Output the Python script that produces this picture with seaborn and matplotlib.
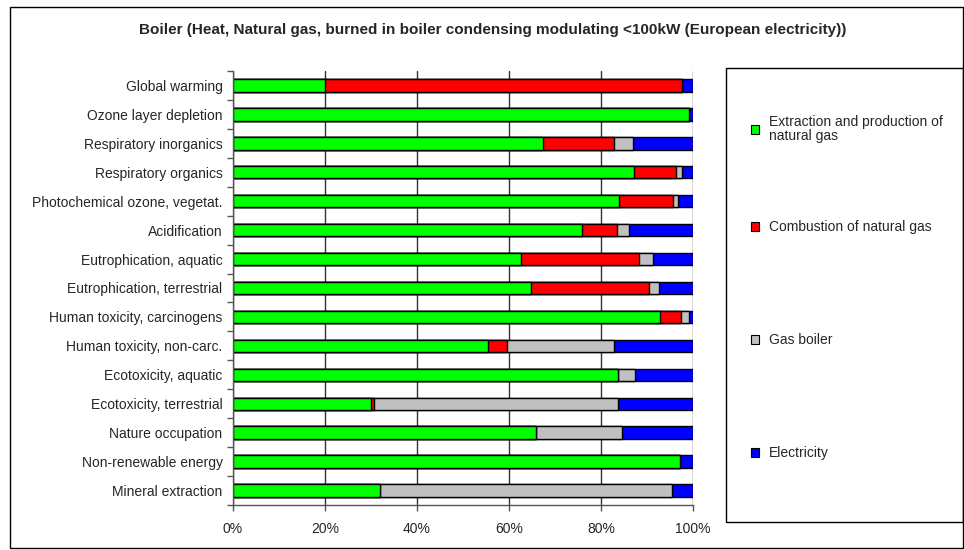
"""
Boiler LCA contribution chart - share of each process per impact category.
"""

import numpy as np
import pandas as pd
import matplotlib
matplotlib.use('Agg')
import matplotlib.pyplot as plt
import seaborn as sns
from matplotlib.patches import Rectangle, Patch

# ── Data (percent of each impact category) ───────────────────────────────────
categories = [
    'Global warming', 'Ozone layer depletion', 'Respiratory inorganics',
    'Respiratory organics', 'Photochemical ozone, vegetat.', 'Acidification',
    'Eutrophication, aquatic', 'Eutrophication, terrestrial',
    'Human toxicity, carcinogens', 'Human toxicity, non-carc.',
    'Ecotoxicity, aquatic', 'Ecotoxicity, terrestrial', 'Nature occupation',
    'Non-renewable energy', 'Mineral extraction',
]
extraction  = [20.0, 99.2, 67.4, 87.2, 84.0, 75.9, 62.5, 64.8, 92.8, 55.5, 83.7, 30.1, 65.9, 97.1, 32.0]
combustion  = [77.5,  0.0, 15.4,  9.0, 11.7,  7.5, 25.8, 25.6,  4.6,  4.1,  0.0,  0.6,  0.0,  0.0,  0.0]
gas_boiler  = [ 0.0,  0.0,  4.1,  1.5,  1.0,  2.6,  3.0,  2.3,  1.7, 23.2,  3.7, 52.9, 18.7,  0.0, 63.4]
electricity = [ 2.5,  0.8, 13.1,  2.3,  3.3, 14.0,  8.7,  7.3,  0.9, 17.2, 12.6, 16.4, 15.4,  2.9,  4.6]

series_labels = ['Extraction and production of\nnatural gas', 'Combustion of natural gas',
                 'Gas boiler', 'Electricity']
series_colors = ['#00ff00', '#ff0000', '#c0c0c0', '#0000ff']

# ── Build stacked (cumulative) table ─────────────────────────────────────────
df = pd.DataFrame({
    'category': categories,
    'extraction': extraction,
    'combustion': combustion,
    'gas_boiler': gas_boiler,
    'electricity': electricity,
})
parts = ['extraction', 'combustion', 'gas_boiler', 'electricity']
total = df[parts].sum(axis=1)
cum = df[parts].div(total, axis=0).mul(100).cumsum(axis=1)
cum['category'] = df['category']

# ── Plot ─────────────────────────────────────────────────────────────────────
sns.set_style('white')
plt.rcParams['font.family'] = ['Liberation Sans', 'DejaVu Sans']

fig = plt.figure(figsize=(9.64, 5.5), dpi=100)
ax = fig.add_axes([233 / 964, 1 - 505 / 550, 460 / 964, 434 / 550])

# draw the cumulative bars from the longest to the shortest -> stacked look
for part, color in reversed(list(zip(parts, series_colors))):
    sns.barplot(data=cum, x=part, y='category', orient='h', color=color,
                edgecolor='black', linewidth=1, width=0.43,
                errorbar=None, saturation=1, ax=ax)

ax.set_xlim(0, 100)
ax.set_ylim(len(categories) - 0.5, -0.5)
ax.set_xticks([0, 20, 40, 60, 80, 100])
ax.set_xticklabels([f'{v}%' for v in [0, 20, 40, 60, 80, 100]])
ax.set_xlabel('')
ax.set_ylabel('')

ax.set_axisbelow(True)
ax.xaxis.grid(True, color='#333333', lw=1)
ax.yaxis.grid(False)

# ticks at the category boundaries on y, outward ticks on x
ax.set_yticks(np.arange(-0.5, len(categories), 1), minor=True)
ax.tick_params(axis='y', which='major', length=0, pad=7.5, labelsize=10)
ax.tick_params(axis='y', which='minor', length=4, width=1, color='#555555', direction='out', left=True)
ax.tick_params(axis='x', which='major', length=4, width=1, color='#555555', direction='out',
               bottom=True, pad=8, labelsize=10)

for side in ['top', 'right']:
    ax.spines[side].set_visible(False)
for side in ['left', 'bottom']:
    ax.spines[side].set_color('#555555')
    ax.spines[side].set_linewidth(1)

# title
fig.text(493 / 964, 1 - 30 / 550,
         'Boiler (Heat, Natural gas, burned in boiler condensing modulating <100kW (European electricity))',
         ha='center', va='center', fontsize=11, fontweight='bold')

# outer chart border
fig.patches.append(Rectangle((10 / 964, 2 / 550), 953 / 964, 541 / 550,
                             transform=fig.transFigure, fill=False,
                             edgecolor='black', lw=1))

# legend box
fig.patches.append(Rectangle((726 / 964, 1 - 522 / 550), 237 / 964, 454 / 550,
                             transform=fig.transFigure, fill=False,
                             edgecolor='black', lw=1))

# one legend per entry so the entries sit where the original ones are
legend_y = [129, 227, 340, 453]
for label, color, y in zip(series_labels, series_colors, legend_y):
    leg = fig.legend([Patch(facecolor=color, edgecolor='black', lw=0.8)], [label],
                     loc='center left', bbox_to_anchor=(744 / 964, 1 - y / 550),
                     frameon=False, fontsize=10, handlelength=0.6, handleheight=0.6,
                     handletextpad=0.7, borderpad=0)
    for t in leg.get_texts():
        t.set_linespacing(0.95)

fig.savefig('out.png', dpi=100)
